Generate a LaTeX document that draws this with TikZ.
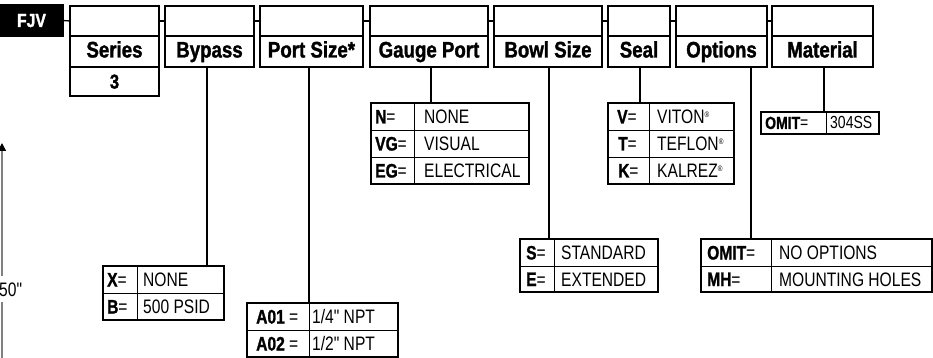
\documentclass[tikz,border=0pt]{standalone}
\usepackage{fontspec}
\setmainfont{Liberation Sans}
\newfontfamily\hdfont{Liberation Sans}[FakeStretch=0.83,BoldFeatures={FakeBold=1.4}]
\newfontfamily\tbfont{Liberation Sans}[FakeStretch=0.8,BoldFeatures={FakeBold=1.2}]
\usetikzlibrary{arrows.meta,calc}
\newcommand\dq{\char34\relax}
\newcommand\reg{{\fontsize{8}{8}\selectfont\raisebox{6pt}{®}}}
\begin{document}
\begin{tikzpicture}[x=1pt,y=-1pt,
  hbox/.style={draw, line width=1.8pt, inner sep=0pt, outer sep=0pt, anchor=north west},
  hd/.style={font=\hdfont\bfseries\fontsize{22.5}{24}\selectfont, text height=16pt, text depth=4pt},
  tab/.style={draw, line width=1.6pt, inner sep=0pt, outer sep=0pt, anchor=north west},
  cell/.style={inner sep=0pt, anchor=west, text height=14pt, text depth=0pt,
    font=\tbfont\fontsize{19.5}{21}\selectfont},
  conn/.style={line width=1.3pt},
  grid/.style={line width=0.8pt}]
\useasboundingbox (0,0) rectangle (933,358);

% ---- header ----
\node[hbox, fill=black, text=white, minimum width=63, minimum height=31,
      text height=13pt, text depth=0pt,
      font=\hdfont\bfseries\fontsize{19}{21}\selectfont] (fjv) at (0,5) {FJV};

\newcommand\hcol[4]{%
  \node[hbox, minimum width={#3-#2}, minimum height=30] (#1top) at (#2,6) {};
  \node[hbox, hd, minimum width={#3-#2}, minimum height=31] (#1) at (#2,36) {#4};
}
\hcol{ser}{70}{159}{Series}
\hcol{byp}{165}{254}{Bypass}
\hcol{port}{260}{363}{Port Size*}
\hcol{gauge}{370}{488}{Gauge Port}
\hcol{bowl}{494}{602}{Bowl Size}
\hcol{seal}{608}{670}{Seal}
\hcol{opt}{676}{767}{Options}
\hcol{mat}{772}{873}{Material}
\node[hbox, minimum width=89, minimum height=29, text height=14pt, text depth=0pt,
      font=\hdfont\bfseries\fontsize{20}{22}\selectfont] (three) at (70,67) {3};

\draw[conn] (fjv.east) -- (sertop.west);
\draw[conn] (sertop.east) -- (byptop.west);
\draw[conn] (byptop.east) -- (porttop.west);
\draw[conn] (porttop.east) -- (gaugetop.west);
\draw[conn] (gaugetop.east) -- (bowltop.west);
\draw[conn] (bowltop.east) -- (sealtop.west);
\draw[conn] (sealtop.east) -- (opttop.west);
\draw[conn] (opttop.east) -- (mattop.west);

% ---- Bypass table ----
\node[tab, minimum width=121, minimum height=54] (bypt) at (103,266) {};
\draw[grid] (103,293) -- (224,293);
\draw[grid] (137,266) -- (137,320);
\node[cell] (bpk1) at (107,279.5) {\textbf{X}=};
\node[cell] (bpv1) at (143,279.5) {NONE};
\node[cell] (bpk2) at (107,306.5) {\textbf{B}=};
\node[cell] (bpv2) at (143,306.5) {500 PSID};

% ---- Port size table ----
\node[tab, minimum width=151, minimum height=54] (portt) at (247,303) {};
\draw[grid] (247,330) -- (398,330);
\draw[grid] (309,303) -- (309,357);
\node[cell] (pk1) at (256,316.5) {\textbf{A01} =};
\node[cell] (pv1) at (312,316.5) {1/4\dq{} NPT};
\node[cell] (pk2) at (256,343.5) {\textbf{A02} =};
\node[cell] (pv2) at (312,343.5) {1/2\dq{} NPT};

% ---- Gauge port table ----
\node[tab, minimum width=158, minimum height=81] (gaugt) at (371,103) {};
\draw[grid] (371,130) -- (529,130);
\draw[grid] (371,157) -- (529,157);
\draw[grid] (414,103) -- (414,184);
\node[cell] (gk1) at (375,116.5) {\textbf{N}=};
\node[cell] (gv1) at (424,116.5) {NONE};
\node[cell] (gk2) at (375,143.5) {\textbf{VG}=};
\node[cell] (gv2) at (424,143.5) {VISUAL};
\node[cell] (gk3) at (375,170.5) {\textbf{EG}=};
\node[cell] (gv3) at (424,170.5) {ELECTRICAL};

% ---- Bowl size table ----
\node[tab, minimum width=138, minimum height=53] (bowlt) at (520,239) {};
\draw[grid] (520,266) -- (658,266);
\draw[grid] (554,239) -- (554,292);
\node[cell] (bk1) at (526,252.5) {\textbf{S}=};
\node[cell] (bv1) at (561,252.5) {STANDARD};
\node[cell] (bk2) at (526,279) {\textbf{E}=};
\node[cell] (bv2) at (561,279) {EXTENDED};

% ---- Seal table ----
\node[tab, minimum width=126, minimum height=81] (sealt) at (608,103) {};
\draw[grid] (608,130) -- (734,130);
\draw[grid] (608,157) -- (734,157);
\draw[grid] (649,103) -- (649,184);
\node[cell] (sk1) at (617,116.5) {\textbf{V}=};
\node[cell] (sv1) at (657,116.5) {VITON\reg};
\node[cell] (sk2) at (618,143.5) {\textbf{T}=};
\node[cell] (sv2) at (657,143.5) {TEFLON\reg};
\node[cell] (sk3) at (618,170.5) {\textbf{K}=};
\node[cell] (sv3) at (657,170.5) {KALREZ\reg};

% ---- Options table ----
\node[tab, minimum width=231, minimum height=53] (optt) at (701,239) {};
\draw[grid] (701,266) -- (932,266);
\draw[grid] (771,239) -- (771,292);
\node[cell] (ok1) at (707,252.5) {\textbf{OMIT}=};
\node[cell] (ov1) at (779,252.5) {NO OPTIONS};
\node[cell] (ok2) at (707,279) {\textbf{MH}=};
\node[cell] (ov2) at (779,279) {MOUNTING HOLES};

% ---- Material table ----
\node[tab, minimum width=118, minimum height=22] (matt) at (761,112) {};
\draw[grid] (826,112) -- (826,134);
\node[cell, text height=12pt, font=\tbfont\fontsize{17.5}{19}\selectfont] (mk1) at (765,123) {\textbf{OMIT}=};
\node[cell, text height=12pt, font=\tbfont\fontsize{17.5}{19}\selectfont] (mv1) at (830,123) {304SS};

% ---- connectors ----
\coordinate (bypx) at (207,0);
\coordinate (portx) at (309,0);
\coordinate (gaugex) at (431,0);
\coordinate (bowlx) at (549,0);
\coordinate (sealx) at (640,0);
\coordinate (optx) at (751,0);
\coordinate (matx) at (824,0);
\draw[conn] (byp.south -| bypx) -- (bypt.north -| bypx);
\draw[conn] (port.south -| portx) -- (portt.north -| portx);
\draw[conn] (gauge.south -| gaugex) -- (gaugt.north -| gaugex);
\draw[conn] (bowl.south -| bowlx) -- (bowlt.north -| bowlx);
\draw[conn] (seal.south -| sealx) -- (sealt.north -| sealx);
\draw[conn] (opt.south -| optx) -- (optt.north -| optx);
\draw[conn] (mat.south -| matx) -- (matt.north -| matx);

% ---- dimension at left edge ----
\node[cell, anchor=west] (dimtxt) at (-1,289) {50\dq};
\coordinate (dimtop) at (2,143);
\coordinate (dimbot) at (2,358);
\draw[line width=1.6pt, color=gray, -{Triangle[black,length=8pt,width=8pt]}]
  ($(dimtxt.north -| dimtop)+(0,-6)$) -- (dimtop);
\draw[line width=1.6pt, color=gray] ($(dimtxt.south -| dimtop)+(0,6)$) -- (dimbot);
\end{tikzpicture}
\end{document}
